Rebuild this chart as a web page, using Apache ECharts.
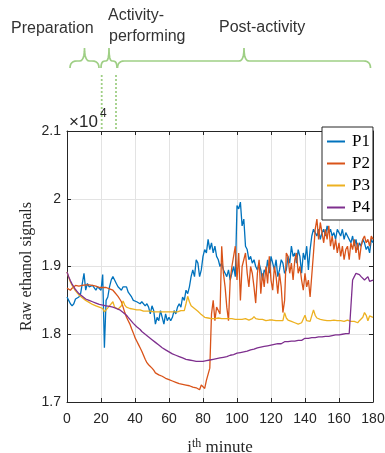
<!DOCTYPE html>
<html>
<head>
<meta charset="utf-8">
<script src="https://cdn.jsdelivr.net/npm/echarts@6/dist/echarts.min.js"></script>
<style>html,body{margin:0;padding:0;background:#fff;}#c{width:385px;height:453px;}</style>
</head>
<body>
<div id="c"></div>
<script>
// minute index 0..180
var minutes = [];
for (var i = 0; i <= 180; i++) minutes.push(i);

var seriesNames = ['P1', 'P2', 'P3', 'P4'];
var xTicks = [0, 20, 40, 60, 80, 100, 120, 140, 160, 180];
var yTicks = [1.7, 1.8, 1.9, 2, 2.1];

// raw ethanol signals, one value per minute
var p1 = [
18550,18500,18450,18420,18450,18520,18500,18550,18600,18580,
18900,18650,18750,18700,18680,18720,18700,18650,18700,18680,
18650,18880,17800,18500,18550,18700,18800,18850,18800,18750,
18700,18720,18650,18700,18680,18700,18620,18600,18550,18500,
18520,18480,18500,18450,18480,18500,18420,18450,18400,18300,
18420,18350,18150,18250,18200,18350,18250,18150,18300,18200,
18250,18200,18250,18350,18300,18400,18450,18400,18550,18500,
18650,18600,18700,18850,18950,18850,19100,19050,18850,18950,
19150,19250,19200,19400,19250,19350,19200,19300,19150,19100,
19000,19050,18950,18900,18850,18950,18800,18900,19000,18850,
19900,19850,19950,19600,19700,19300,19250,19100,19150,19050,
19100,19000,18950,19050,18950,18800,18950,18900,19100,18900,
19150,19050,18950,19100,18850,18950,19100,19050,18900,18950,
19150,19050,19300,19150,19200,19050,19250,19150,18900,19200,
19100,19300,18950,19250,19450,19550,19500,19450,19550,19400,
19500,19550,19450,19600,19500,19550,19450,19500,19400,19550,
19500,19450,19550,19400,19500,19450,19400,19350,19450,19300,
19400,19250,19350,19300,19400,19350,19250,19300,19200,19400,
19350
];
var p2 = [
18680,18660,18650,18680,18700,18720,18720,18710,18730,18720,
18740,18730,18720,18730,18710,18720,18700,18710,18700,18690,
18700,18690,18680,18690,18680,18670,18680,18650,18620,18600,
18560,18520,18480,18400,18320,18250,18200,18150,18080,18020,
17950,17900,17850,17800,17750,17690,17630,17580,17550,17530,
17500,17470,17430,17410,17400,17390,17380,17360,17350,17340,
17330,17320,17310,17300,17290,17280,17270,17270,17260,17260,
17250,17250,17240,17230,17220,17220,17210,17200,17180,17250,
17240,17200,17320,17300,17500,18300,18500,18200,18400,18350,
18300,19300,18900,18700,18400,18200,18800,19000,19000,19300,
18800,19200,18500,19000,19100,19200,18900,18700,19000,18900,
18700,18460,18900,19100,18600,18900,18700,19000,18750,19150,
18800,18650,19000,18850,18600,18900,18700,18320,18500,19200,
19150,18900,19050,18800,19100,19200,18900,19000,18800,18650,
18900,18700,18800,18550,18560,19200,19550,19700,19400,19650,
19500,19350,19550,19400,19600,19300,19450,19250,19400,19200,
19350,19150,19300,19100,19250,19300,19100,19350,19250,19400,
19200,19350,19100,19300,19400,19450,19350,19400,19300,19450,
19400
];
var p3 = [
18920,18840,18770,18720,18680,18640,18610,18580,18560,18540,
18520,18500,18490,18470,18460,18440,18430,18420,18410,18400,
18390,18380,18330,18360,18380,18420,18440,18480,18400,18380,
18370,18390,18420,18490,18430,18400,18390,18380,18380,18370,
18360,18360,18350,18360,18350,18340,18350,18340,18330,18340,
18330,18330,18320,18330,18320,18330,18320,18330,18320,18330,
18320,18330,18320,18330,18340,18330,18340,18350,18340,18350,
18450,18560,18480,18420,18400,18380,18360,18340,18320,18290,
18270,18250,18240,18240,18230,18230,18240,18230,18230,18240,
18230,18230,18240,18230,18220,18230,18240,18230,18230,18220,
18230,18220,18230,18220,18220,18230,18220,18210,18220,18230,
18260,18230,18220,18220,18210,18220,18210,18200,18210,18210,
18200,18210,18200,18200,18210,18200,18190,18200,18320,18240,
18210,18200,18190,18180,18170,18160,18150,18160,18170,18160,
18280,18200,18180,18190,18200,18360,18280,18240,18230,18220,
18220,18210,18210,18200,18210,18200,18200,18210,18200,18200,
18190,18200,18200,18190,18200,18210,18200,18190,18180,18190,
18180,18170,18200,18180,18250,18320,18280,18200,18270,18260,
18250
];
var p4 = [
18920,18850,18790,18740,18700,18660,18630,18600,18580,18560,
18540,18520,18510,18500,18490,18480,18470,18460,18450,18440,
18440,18430,18430,18420,18420,18410,18410,18400,18390,18380,
18370,18360,18340,18320,18300,18280,18250,18220,18190,18160,
18140,18110,18090,18070,18040,18020,18000,17980,17960,17940,
17920,17900,17880,17860,17840,17820,17800,17790,17770,17750,
17740,17730,17710,17700,17690,17680,17670,17660,17650,17640,
17630,17620,17620,17610,17610,17610,17600,17600,17600,17600,
17600,17610,17610,17610,17620,17620,17630,17630,17640,17640,
17650,17650,17660,17660,17670,17680,17690,17700,17700,17710,
17720,17720,17730,17740,17740,17750,17750,17760,17770,17770,
17780,17800,17800,17800,17810,17810,17820,17820,17830,17840,
17840,17840,17850,17850,17860,17860,17860,17870,17890,17890,
17890,17890,17900,17900,17900,17900,17910,17910,17910,17920,
17940,17940,17940,17940,17950,17950,17950,17950,17960,17960,
17960,17970,17970,17970,17970,17980,17980,17980,17990,17990,
17990,18000,18000,18000,18010,18010,18010,18020,18800,18850,
18900,18920,18880,18850,18870,18800,18820,18850,18780,18760,
18800
];
var seriesValues = [p1, p2, p3, p4];
var seriesColors = ['#0072BD', '#D95319', '#EDB120', '#7E2F8E'];

// header annotation
var phaseLabels = ['Preparation', 'Activity-', 'performing', 'Post-activity'];

function pairs(vals) {
  return vals.map(function (v, i) { return [minutes[i], v]; });
}

var chart = echarts.init(document.getElementById('c'), null, {renderer: 'canvas'});

var axisCol = '#262626';
var gridCol = '#e3e3e3';
var green = '#9fcf85';

// curly brace (decoration) as polyline points
function qpts(p0, c, p1, out) {
  for (var s = 1; s <= 6; s++) {
    var t = s / 6, u = 1 - t;
    out.push([u * u * p0[0] + 2 * u * t * c[0] + t * t * p1[0],
              u * u * p0[1] + 2 * u * t * c[1] + t * t * p1[1]]);
  }
}
function brace(x1, xm, x2, r1, r2) {
  var yEnd = 68, yBody = 61, yTip = 48;
  var pts = [[x1, yEnd]];
  qpts([x1, yEnd], [x1, yBody], [x1 + r1, yBody], pts);
  pts.push([xm - r2, yBody]);
  qpts([xm - r2, yBody], [xm, yBody], [xm, yTip], pts);
  qpts([xm, yTip], [xm, yBody], [xm + r2, yBody], pts);
  pts.push([x2 - r1, yBody]);
  qpts([x2 - r1, yBody], [x2, yBody], [x2, yEnd], pts);
  return pts;
}

var sansFont = '"Liberation Sans", Arial, sans-serif';
var serifFont = '"Liberation Serif", "Times New Roman", serif';

var option = {
  animation: false,
  backgroundColor: '#fff',
  grid: {left: 67, right: 12, top: 131, bottom: 51, containLabel: false, outerBoundsMode: 'none'},
  xAxis: [{
    type: 'value', min: xTicks[0], max: xTicks[xTicks.length - 1], interval: 20,
    position: 'bottom',
    axisLine: {show: true, onZero: false, lineStyle: {color: axisCol, width: 1}},
    axisTick: {show: true, inside: true, length: 4, lineStyle: {color: axisCol}},
    axisLabel: {color: axisCol, fontSize: 14, fontFamily: sansFont, margin: 10},
    splitLine: {show: true, lineStyle: {color: gridCol, width: 1}},
    name: '{i|i}{sup|th}{m| minute}',
    nameLocation: 'middle', nameGap: 36,
    nameTextStyle: {
      rich: {
        i: {fontFamily: serifFont, fontSize: 17, color: axisCol},
        sup: {fontFamily: serifFont, fontSize: 12, color: axisCol, verticalAlign: 'top', padding: [0, 0, 8, 0]},
        m: {fontFamily: serifFont, fontSize: 17, color: axisCol}
      }
    }
  }, {
    type: 'value', min: xTicks[0], max: xTicks[xTicks.length - 1], interval: 20,
    position: 'top',
    axisLine: {show: true, onZero: false, lineStyle: {color: axisCol, width: 1}},
    axisTick: {show: true, inside: true, length: 4, lineStyle: {color: axisCol}},
    axisLabel: {show: false},
    splitLine: {show: false}
  }],
  yAxis: [{
    type: 'value', min: 17000, max: 21000, interval: 1000,
    axisLine: {show: true, onZero: false, lineStyle: {color: axisCol, width: 1}},
    axisTick: {show: true, inside: true, length: 4, lineStyle: {color: axisCol}},
    axisLabel: {
      color: axisCol, fontSize: 14, fontFamily: sansFont, margin: 6,
      formatter: function (v) { return String(Math.round(v / 1000) / 10); }
    },
    splitLine: {show: true, lineStyle: {color: gridCol, width: 1}},
    name: 'Raw ethanol signals', nameLocation: 'middle', nameGap: 32, nameRotate: 90,
    nameMoveOverlap: false,
    nameTextStyle: {fontFamily: serifFont, fontSize: 16, color: axisCol}
  }, {
    type: 'value', min: 17000, max: 21000, interval: 1000, position: 'right',
    axisLine: {show: true, onZero: false, lineStyle: {color: axisCol, width: 1}},
    axisTick: {show: true, inside: true, length: 4, lineStyle: {color: axisCol}},
    axisLabel: {show: false},
    splitLine: {show: false}
  }],
  legend: {
    data: seriesNames,
    orient: 'vertical',
    left: 322, top: 127,
    backgroundColor: '#fff',
    borderColor: axisCol, borderWidth: 1, borderRadius: 0,
    padding: [6, 3, 4, 5],
    itemGap: 5,
    itemWidth: 18, itemHeight: 2,
    icon: 'rect',
    textStyle: {fontFamily: serifFont, fontSize: 17, color: '#000', padding: [0, 0, 0, 2]}
  },
  series: seriesNames.map(function (n, k) {
    return {
      name: n, type: 'line', data: pairs(seriesValues[k]),
      showSymbol: false, symbol: 'none',
      lineStyle: {color: seriesColors[k], width: 1.3},
      itemStyle: {color: seriesColors[k]},
      emphasis: {disabled: true}
    };
  }),
  graphic: [
    {type: 'text', x: 11, y: 29, style: {text: phaseLabels[0], fill: '#333', fontSize: 16, fontFamily: sansFont, textVerticalAlign: 'middle'}},
    {type: 'text', x: 108, y: 16, style: {text: phaseLabels[1], fill: '#333', fontSize: 16, fontFamily: sansFont, textVerticalAlign: 'middle'}},
    {type: 'text', x: 109, y: 37, style: {text: phaseLabels[2], fill: '#333', fontSize: 16, fontFamily: sansFont, textVerticalAlign: 'middle'}},
    {type: 'text', x: 219, y: 28, style: {text: phaseLabels[3], fill: '#333', fontSize: 16, fontFamily: sansFont, textVerticalAlign: 'middle'}},
    {type: 'polyline', shape: {points: brace(70, 84.5, 99, 7, 5)}, style: {stroke: green, fill: null, lineWidth: 1.7}},
    {type: 'polyline', shape: {points: brace(101, 109, 117, 4, 3)}, style: {stroke: green, fill: null, lineWidth: 1.7}},
    {type: 'polyline', shape: {points: brace(117.5, 244, 370.5, 7, 5)}, style: {stroke: green, fill: null, lineWidth: 1.7}},
    {type: 'line', shape: {x1: 101.7, y1: 75, x2: 101.7, y2: 131}, style: {stroke: green, lineWidth: 1.8, lineDash: [2, 2]}},
    {type: 'line', shape: {x1: 116, y1: 75, x2: 116, y2: 131}, style: {stroke: green, lineWidth: 1.8, lineDash: [2, 2]}},
    {type: 'text', x: 69, y: 122, style: {text: '\u00d710', fill: axisCol, fontSize: 17, fontFamily: sansFont, textVerticalAlign: 'middle'}},
    {type: 'text', x: 100, y: 114, style: {text: '4', fill: axisCol, fontSize: 12, fontFamily: sansFont, textVerticalAlign: 'middle'}}
  ]
};
chart.setOption(option);
</script>
</body>
</html>
